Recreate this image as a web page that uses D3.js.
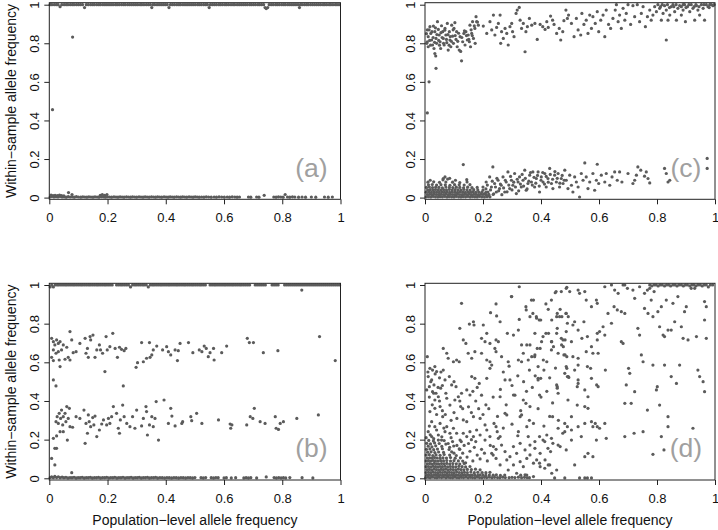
<!DOCTYPE html>
<html><head><meta charset="utf-8">
<script src="https://cdn.jsdelivr.net/npm/d3@7/dist/d3.min.js"></script>
<style>body{margin:0;background:#fff}svg{display:block}text{font-family:"Liberation Sans",Arial,Helvetica,sans-serif}</style>
</head><body><svg id="chart" width="718" height="530"></svg>
<script>
const xTicks=[0,0.2,0.4,0.6,0.8,1];
const yTicks=[0,0.2,0.4,0.6,0.8,1];
const xTitle="Population\u2212level allele frequency";
const yTitle="Within\u2212sample allele frequency";
const panelLabels=["(a)","(b)","(c)","(d)"];

// ---------- panel (a) ----------
const aTopBand=[[.003,1],[.009,1],[.017,1],[.024,1],[.03,1],[.037,.99],[.043,1],[.051,1],[.058,1],[.064,1],[.072,1],[.079,1],[.085,1],[.093,1],[.1,1],[.107,1],[.114,1],[.121,.985],[.127,1],[.134,1],[.142,1],[.149,1],[.155,1],[.163,1],[.17,1],[.176,1],[.184,1],[.191,1],[.198,1],[.205,1],[.212,1],[.219,1],[.227,1],[.233,1],[.24,1],[.248,1],[.255,1],[.261,1],[.269,1],[.276,1],[.283,1],[.29,1],[.297,1],[.304,1],[.312,1],[.318,1],[.325,1],[.333,1],[.34,1],[.347,1],[.352,.985],[.356,1],[.362,1],[.37,1],[.377,1],[.384,1],[.391,1],[.398,1],[.405,1],[.411,.985],[.416,1],[.423,1],[.43,1],[.438,1],[.445,1],[.451,1],[.459,1],[.466,1],[.473,1],[.48,1],[.487,1],[.494,1],[.501,1],[.509,1],[.515,1],[.522,1],[.53,1],[.537,1],[.543,1],[.549,.985],[.553,1],[.56,1],[.567,1],[.574,1],[.582,1],[.588,1],[.595,1],[.603,1],[.609,1],[.616,1],[.624,1],[.631,1],[.637,1],[.645,1],[.652,1],[.659,1],[.666,1],[.673,1],[.68,1],[.688,1],[.694,1],[.701,1],[.708,1],[.716,1],[.722,1],[.729,1],[.736,1],[.741,.985],[.745,.98],[.75,.985],[.755,1],[.762,1],[.769,1],[.777,1],[.783,1],[.79,1],[.798,1],[.805,1],[.811,1],[.819,1],[.826,1],[.833,1],[.84,1],[.847,1],[.854,1],[.859,.985],[.862,1],[.868,1],[.876,1],[.883,1],[.889,1],[.897,1],[.904,1],[.911,1],[.918,1],[.925,1],[.932,1],[.94,1],[.946,1],[.953,1],[.961,1],[.967,1],[.974,1],[.982,1],[.988,1],[.995,1]];
const aZeroBand=[[.003,.003],[.009,.006],[.016,.003],[.023,.005],[.03,.003],[.037,.006],[.044,.003],[.051,.004],[.058,.002],[.065,.005],[.072,.003],[.079,.004],[.086,.002],[.093,.005],[.1,.003],[.108,.002],[.115,.004],[.122,.003],[.129,.002],[.136,.004],[.143,.003],[.15,.002],[.157,.004],[.164,.003],[.171,.002],[.179,.004],[.186,.003],[.193,.002],[.2,.004],[.207,.003],[.214,.002],[.222,.004],[.229,.003],[.236,.002],[.243,.004],[.25,.003],[.257,.002],[.265,.004],[.272,.003],[.279,.002],[.286,.004],[.293,.003],[.3,.002],[.308,.004],[.315,.003],[.322,.002],[.329,.004],[.336,.003],[.343,.002],[.351,.004],[.358,.003],[.365,.002],[.372,.004],[.379,.003],[.386,.002],[.394,.004],[.401,.003],[.408,.002],[.415,.004],[.422,.003],[.429,.002],[.437,.004],[.444,.003],[.451,.002],[.458,.004],[.465,.003],[.472,.002],[.48,.004],[.487,.003],[.494,.002],[.501,.004],[.508,.003],[.515,.002],[.523,.003],[.531,.002],[.539,.004],[.547,.003],[.556,.002],[.566,.003],[.574,.002],[.583,.004],[.592,.003],[.601,.002],[.611,.003],[.619,.002],[.628,.004],[.637,.003],[.645,.002],[.653,.003],[.684,.003],[.692,.002],[.712,.003],[.72,.002],[.771,.003],[.779,.002],[.787,.004],[.795,.003],[.803,.002],[.818,.003],[.826,.002],[.835,.004],[.843,.003],[.856,.002],[.868,.003],[.88,.002],[.9,.003],[.915,.002],[.945,.003],[.958,.002],[.972,.003]];
const aOther=[[.006,.013],[.013,.01],[.02,.012],[.028,.01],[.035,.013],[.042,.01],[.05,.009],[.066,.026],[.078,.016],[.175,.012],[.182,.016],[.19,.012],[.198,.016],[.738,.012],[.81,.016],[.011,.456],[.08,.832]];

// ---------- panel (b) ----------
const bTopBand=[[.003,.99],[.008,1],[.014,.99],[.02,1],[.027,1],[.033,1],[.04,1],[.047,1],[.054,1],[.06,1],[.067,1],[.074,1],[.081,1],[.087,1],[.094,1],[.101,1],[.108,1],[.114,1],[.121,1],[.128,1],[.135,1],[.141,1],[.148,1],[.155,1],[.162,1],[.168,1],[.175,1],[.182,1],[.189,1],[.195,1],[.202,1],[.209,1],[.216,1],[.231,1],[.238,1],[.245,1],[.251,1],[.258,1],[.265,1],[.272,1],[.279,.99],[.286,1],[.293,1],[.299,1],[.306,1],[.313,1],[.32,1],[.326,1],[.333,1],[.34,.99],[.347,1],[.354,1],[.36,1],[.367,1],[.374,1],[.381,1],[.387,1],[.394,1],[.401,1],[.408,1],[.414,1],[.421,1],[.428,1],[.435,1],[.441,1],[.448,1],[.455,1],[.462,1],[.468,1],[.475,1],[.482,1],[.489,1],[.495,1],[.502,1],[.509,1],[.516,1],[.522,1],[.529,1],[.536,1],[.552,1],[.559,1],[.566,1],[.572,1],[.579,1],[.586,1],[.593,1],[.6,1],[.606,1],[.613,1],[.62,1],[.627,1],[.633,1],[.64,1],[.647,1],[.654,1],[.66,1],[.667,1],[.674,1],[.681,1],[.688,1],[.707,1],[.714,1],[.721,1],[.728,1],[.735,1],[.742,1],[.765,1],[.772,1],[.779,1],[.786,1],[.808,1],[.815,1],[.822,1],[.829,1],[.836,1],[.843,1],[.85,1],[.857,1],[.864,1],[.871,1],[.878,1],[.885,1],[.892,1],[.899,1],[.906,1],[.913,1],[.92,1],[.927,1],[.934,1],[.941,1],[.948,1],[.955,1],[.962,1],[.969,1],[.976,1],[.983,1],[.99,1],[.997,1],[.867,.974]];
const bUpperMid=[[.008,.724],[.014,.707],[.019,.69],[.025,.716],[.031,.698],[.037,.707],[.014,.664],[.023,.647],[.008,.626],[.014,.609],[.031,.655],[.042,.664],[.048,.69],[.06,.678],[.034,.612],[.037,.578],[.054,.616],[.065,.626],[.071,.759],[.077,.716],[.082,.65],[.071,.612],[.092,.655],[.105,.698],[.123,.724],[.131,.672],[.126,.647],[.134,.626],[.14,.733],[.15,.741],[.142,.716],[.157,.626],[.163,.664],[.172,.69],[.176,.664],[.183,.647],[.195,.733],[.191,.552],[.199,.664],[.208,.681],[.218,.75],[.226,.672],[.234,.626],[.241,.678],[.248,.667],[.254,.478],[.257,.66],[.263,.672],[.298,.574],[.303,.598],[.317,.702],[.323,.603],[.334,.621],[.344,.702],[.346,.626],[.352,.638],[.357,.664],[.369,.684],[.389,.664],[.403,.681],[.409,.655],[.417,.638],[.432,.664],[.44,.609],[.443,.66],[.449,.698],[.478,.702],[.493,.65],[.515,.664],[.524,.655],[.532,.684],[.539,.672],[.546,.629],[.552,.65],[.564,.672],[.566,.612],[.592,.65],[.609,.684],[.68,.724],[.687,.702],[.701,.702],[.735,.65],[.785,.66],[.928,.733],[.982,.609],[.014,.509],[.023,.478]];
const bLowerMid=[[.008,.103],[.014,.207],[.019,.155],[.025,.155],[.019,.069],[.025,.219],[.023,.293],[.027,.319],[.031,.284],[.034,.336],[.039,.31],[.042,.353],[.046,.276],[.048,.319],[.054,.336],[.057,.293],[.06,.371],[.065,.31],[.069,.362],[.062,.198],[.048,.241],[.037,.241],[.071,.267],[.08,.264],[.092,.319],[.105,.31],[.119,.353],[.123,.181],[.126,.284],[.131,.233],[.134,.328],[.137,.293],[.142,.267],[.149,.314],[.153,.276],[.157,.322],[.163,.216],[.172,.25],[.18,.281],[.186,.302],[.197,.276],[.203,.31],[.208,.284],[.214,.319],[.22,.371],[.231,.336],[.237,.259],[.241,.233],[.244,.302],[.252,.379],[.257,.319],[.266,.284],[.277,.267],[.286,.319],[.294,.259],[.3,.353],[.317,.271],[.323,.31],[.332,.371],[.334,.345],[.337,.224],[.344,.276],[.352,.319],[.357,.267],[.363,.31],[.367,.397],[.375,.198],[.394,.405],[.409,.284],[.417,.362],[.421,.322],[.432,.271],[.455,.284],[.458,.293],[.486,.319],[.489,.298],[.506,.336],[.524,.284],[.581,.302],[.621,.281],[.623,.259],[.627,.276],[.678,.276],[.69,.319],[.699,.31],[.704,.362],[.724,.293],[.741,.284],[.776,.319],[.779,.259],[.787,.253],[.793,.284],[.804,.293],[.85,.31],[.924,.328]];
const bZeroBand=[[.003,.003],[.008,.008],[.014,.003],[.019,.01],[.025,.004],[.031,.008],[.037,.003],[.044,.006],[.05,.003],[.057,.005],[.064,.002],[.071,.004],[.077,.029],[.078,.003],[.085,.005],[.092,.002],[.099,.004],[.106,.003],[.113,.005],[.12,.002],[.127,.004],[.134,.003],[.141,.005],[.148,.002],[.155,.004],[.162,.003],[.169,.005],[.176,.002],[.183,.004],[.19,.003],[.197,.005],[.204,.002],[.211,.004],[.218,.003],[.225,.005],[.232,.002],[.239,.004],[.246,.003],[.253,.005],[.26,.002],[.267,.004],[.274,.003],[.281,.005],[.288,.002],[.295,.004],[.302,.003],[.309,.005],[.316,.002],[.323,.004],[.33,.003],[.337,.005],[.344,.002],[.351,.004],[.358,.003],[.365,.005],[.372,.002],[.38,.004],[.388,.003],[.396,.002],[.404,.004],[.412,.003],[.42,.002],[.428,.004],[.436,.003],[.444,.002],[.452,.004],[.46,.003],[.468,.002],[.476,.004],[.484,.003],[.492,.002],[.5,.004],[.521,.003],[.529,.002],[.537,.004],[.556,.003],[.564,.002],[.572,.004],[.58,.003],[.6,.002],[.608,.003],[.625,.002],[.64,.003],[.668,.002],[.676,.003],[.684,.002],[.692,.003],[.712,.002],[.745,.007],[.772,.004],[.78,.002],[.788,.004],[.796,.002],[.804,.003],[.812,.002],[.826,.004],[.868,.003],[.905,.002]];

// ---------- panel (c) ----------
const cUpper=[[.008,.869],[.011,.834],[.008,.808],[.011,.782],[.017,.886],[.02,.851],[.023,.817],[.026,.791],[.029,.889],[.031,.773],[.034,.86],[.038,.825],[.034,.747],[.037,.734],[.04,.8],[.043,.912],[.046,.872],[.049,.843],[.052,.808],[.054,.773],[.057,.891],[.061,.86],[.063,.825],[.066,.791],[.069,.877],[.072,.843],[.075,.803],[.077,.903],[.08,.765],[.084,.86],[.086,.817],[.089,.782],[.092,.894],[.095,.837],[.098,.8],[.1,.877],[.103,.907],[.107,.82],[.109,.86],[.111,.782],[.118,.765],[.121,.834],[.123,.758],[.126,.709],[.13,.808],[.134,.851],[.138,.791],[.141,.86],[.146,.817],[.149,.843],[.153,.808],[.155,.894],[.157,.782],[.161,.851],[.164,.912],[.167,.825],[.172,.877],[.176,.938],[.178,.912],[.184,.894],[.038,.67],[.014,.6],[.008,.439],
[.005,.85],[.006,.8],[.014,.87],[.016,.815],[.019,.79],[.024,.86],[.028,.83],[.033,.805],[.036,.88],[.041,.845],[.047,.815],[.05,.79],[.055,.855],[.059,.83],[.064,.8],[.068,.868],[.074,.82],[.079,.845],[.083,.79],[.087,.835],[.091,.81],[.097,.87],[.104,.84],[.113,.81],[.116,.852],[.127,.83],[.136,.865],[.143,.84],[.151,.82],[.159,.87],[.163,.84],[.17,.89],[.181,.91],[.173,.8],
[.201,.889],[.213,.851],[.224,.912],[.23,.869],[.236,.946],[.241,.843],[.247,.882],[.253,.903],[.259,.946],[.261,.8],[.264,.86],[.27,.825],[.276,.877],[.282,.851],[.287,.791],[.293,.886],[.299,.903],[.302,.86],[.307,.834],[.314,.955],[.318,.972],[.325,.986],[.328,.92],[.333,.877],[.339,.903],[.345,.756],[.348,.86],[.353,.886],[.36,.929],[.368,.894],[.379,.903],[.387,.82],[.397,.898],[.406,.886],[.414,.872],[.42,.912],[.425,.882],[.433,.941],[.44,.92],[.445,.898],[.454,.851],[.463,.877],[.468,.817],[.475,.86],[.479,.917],[.486,.972],[.491,.929],[.495,.946],
[.505,.903],[.514,.834],[.522,.929],[.528,.869],[.537,.843],[.541,.955],[.548,.898],[.556,.92],[.562,.851],[.568,.946],[.574,.877],[.579,.938],[.587,.903],[.594,.964],[.599,.86],[.606,.92],[.614,.946],[.62,.834],[.625,.972],[.633,.898],[.64,.877],[.648,.929],[.656,.972],[.66,1],[.666,.912],[.671,.946],[.677,.877],[.683,.981],[.689,.92],[.694,.955],[.7,1],[.709,.898],[.717,.995],[.723,.938],[.732,1],[.74,.912],[.746,.955],[.752,.99],[.76,.886],[.767,.938],[.775,.972],[.78,.92],[.786,.946],[.792,.99],[.798,.964],[.803,1],[.809,.981],[.815,.92],[.821,.955],[.826,.995],[.832,.817],[.832,.972],[.838,.92],[.844,.946],[.849,.99],[.855,1],[.861,.964],[.867,.92],[.872,.981],[.878,.995],[.884,.946],[.89,.972],[.895,1],[.898,.912],[.905,.99],[.913,.964],[.918,1],[.924,.981],[.93,.92],[.936,.995],[.941,.972],[.947,.946],[.953,1],[.959,.981],[.964,.92],[.97,1],[.976,.99],[.982,1],[.987,1],[.993,.995],
[.812,.99],[.818,1],[.836,1],[.843,.985],[.858,.99],[.866,1],[.884,.99],[.89,1],[.9,.985],[.91,1],[.928,.99],[.934,1],[.945,.99],[.962,1],[.98,.985],[.997,1]];
const cLower=[[.2,.055],[.211,.081],[.217,.029],[.223,.107],[.229,.055],[.234,.159],[.24,.073],[.246,.029],[.252,.09],[.257,.047],[.263,.064],[.269,.107],[.275,.029],[.28,.081],[.286,.133],[.292,.047],[.298,.09],[.303,.064],[.309,.125],[.315,.021],[.321,.081],[.326,.107],[.332,.055],[.338,.09],[.344,.142],[.349,.038],[.355,.073],[.361,.116],[.367,.081],[.372,.133],[.378,.055],[.384,.099],[.39,.133],[.395,.029],[.401,.107],[.407,.081],[.413,.125],[.418,.055],[.424,.099],[.43,.151],[.436,.073],[.441,.047],[.447,.116],[.453,.081],[.459,.125],[.464,.055],[.47,.099],[.476,.073],[.482,.142],[.487,.09],[.493,.047],[.499,.116],[.505,.064],[.51,.029],[.516,.107],[.522,.081],[.528,.055],[.533,.003],[.539,.125],[.545,.09],[.551,.18],[.556,.107],[.562,.047],[.568,.081],[.579,.125],[.585,.038],[.591,.09],[.594,.173],[.599,.073],[.608,.116],[.62,.081],[.625,.125],[.637,.064],[.645,.107],[.654,.133],[.663,.09],[.671,.133],[.679,.081],[.7,.125],[.717,.073],[.723,.09],[.729,.116],[.734,.159],[.744,.142],[.757,.111],[.763,.133],[.769,.099],[.775,.076],[.826,.151],[.832,.125],[.838,.081],[.844,.09],[.973,.203],[.973,.151],[.132,.171],[.063,.099],[.069,.107],[.144,.093],
[.205,.02],[.21,.045],[.215,.065],[.22,.01],[.226,.04],[.232,.085],[.237,.02],[.243,.055],[.248,.1],[.254,.035],[.26,.07],[.265,.015],[.271,.05],[.277,.09],[.283,.03],[.289,.065],[.295,.11],[.3,.04],[.306,.08],[.312,.055],[.318,.095],[.323,.035],[.329,.07],[.335,.12],[.34,.06],[.346,.1],[.352,.045],[.358,.085],[.364,.13],[.37,.065],[.376,.105],[.382,.075],[.388,.115],[.394,.06],[.4,.09],[.406,.13],[.412,.07],[.418,.11],[.425,.08],[.432,.12],[.44,.095],[.448,.135],[.456,.1],[.465,.075],[.473,.115],[.48,.09]];
const cLowerDense=[[.004,.004],[.012,.005],[.02,.003],[.028,.006],[.036,.004],[.044,.003],[.052,.005],[.06,.004],[.068,.006],[.076,.003],[.084,.005],[.092,.004],[.1,.003],[.108,.006],[.116,.004],[.124,.003],[.132,.005],[.14,.004],[.148,.006],[.156,.003],[.164,.005],[.172,.004],[.18,.003],[.188,.006],[.196,.004],[.205,.003],[.214,.005],[.224,.004],
[.008,.016],[.016,.017],[.024,.015],[.032,.018],[.04,.016],[.048,.015],[.056,.017],[.064,.016],[.072,.018],[.08,.015],[.088,.017],[.096,.016],[.104,.015],[.112,.018],[.12,.016],[.128,.015],[.136,.017],[.144,.016],[.152,.018],[.16,.015],[.168,.017],[.176,.016],[.184,.015],[.192,.018],[.2,.016],[.21,.015],[.22,.017],[.235,.016],
[.004,.028],[.013,.029],[.022,.027],[.031,.03],[.04,.028],[.049,.027],[.058,.029],[.067,.028],[.076,.03],[.085,.027],[.094,.029],[.103,.028],[.112,.027],[.121,.03],[.13,.028],[.139,.027],[.148,.029],[.157,.028],[.166,.03],[.175,.027],[.185,.029],[.196,.028],[.21,.027],
[.009,.04],[.018,.041],[.027,.039],[.036,.042],[.045,.04],[.054,.039],[.064,.041],[.074,.04],[.084,.042],[.094,.039],[.104,.041],[.114,.04],[.124,.039],[.134,.042],[.145,.04],[.156,.039],[.168,.041],[.182,.04],[.2,.039],
[.005,.053],[.015,.055],[.026,.052],[.037,.054],[.048,.053],[.06,.051],[.072,.055],[.084,.053],[.096,.052],[.108,.054],[.12,.053],[.133,.051],[.147,.054],[.162,.052],[.18,.053],
[.012,.066],[.025,.068],[.04,.065],[.055,.067],[.07,.066],[.086,.064],[.102,.067],[.118,.066],[.135,.065],[.155,.067],
[.01,.08],[.03,.082],[.05,.079],[.072,.081],[.095,.08],[.12,.078],[.145,.081],
[.018,.09],[.062,.092],[.078,.096],[.085,.1],[.105,.09]];

// ---------- panel (d) ----------
const dTopBand=[[.775,1],[.782,.995],[.79,1],[.797,1],[.804,.995],[.811,1],[.818,1],[.826,.995],[.833,1],[.84,1],[.847,.995],[.855,1],[.862,1],[.869,.995],[.876,1],[.884,1],[.891,.995],[.898,1],[.905,1],[.913,.995],[.92,1],[.927,1],[.934,.995],[.941,1],[.949,1],[.956,.995],[.963,1],[.97,1],[.977,.99],[.984,1],[.992,1]];
const dScatter=[[.325,.991],[.126,.905],[.299,.94],[.374,.922],[.417,.902],[.452,.966],[.489,.988],[.245,.902],[.226,.857],[.247,.84],[.259,.81],[.325,.822],[.348,.888],[.362,.836],[.385,.828],[.394,.819],[.425,.874],[.437,.819],[.454,.836],[.466,.874],[.486,.853],[.494,.836],[.153,.798],[.167,.81],[.169,.793],[.201,.793],[.12,.776],[.213,.75],[.245,.716],[.253,.707],[.224,.698],[.207,.707],[.195,.724],[.132,.716],[.141,.698],[.284,.75],[.305,.741],[.322,.767],[.333,.69],[.351,.69],[.362,.69],[.379,.75],[.402,.707],[.417,.75],[.437,.707],[.443,.681],[.454,.75],[.471,.69],[.483,.716],[.489,.629],[.063,.672],[.075,.647],[.08,.621],[.098,.603],[.109,.612],[.118,.603],[.149,.647],[.161,.621],[.172,.655],[.195,.647],[.213,.612],[.224,.603],[.241,.672],[.245,.655],[.264,.629],[.287,.603],[.322,.612],[.333,.603],[.339,.647],[.356,.612],[.368,.629],[.379,.638],[.387,.672],[.397,.672],[.408,.612],[.42,.603],[.477,.681],[.483,.638],[.008,.629],[.017,.569],[.026,.56],[.034,.578],[.04,.552],[.011,.526],[.023,.509],[.031,.483],[.015,.474],[.006,.457],[.026,.448],[.038,.44],[.046,.422],[.034,.405],[.054,.466],[.063,.56],[.069,.509],[.084,.526],[.092,.483],[.1,.5],[.107,.474],[.115,.422],[.126,.44],[.072,.44],[.075,.414],[.052,.371],[.034,.362],[.017,.345],[.061,.319],[.086,.379],[.103,.405],[.123,.371],[.144,.457],[.155,.431],[.161,.526],[.172,.517],[.187,.491],[.213,.517],[.23,.586],[.224,.569],[.259,.422],[.276,.509],[.293,.509],[.305,.431],[.339,.405],[.348,.388],[.362,.371],[.39,.517],[.399,.517],[.454,.483],[.456,.466],[.489,.569],[.494,.526],[.132,.302],[.144,.293],[.167,.319],[.19,.31],[.207,.276],[.213,.25],[.238,.284],[.245,.267],[.249,.241],[.259,.216],[.276,.336],[.282,.328],[.322,.241],[.328,.319],[.333,.328],[.351,.267],[.356,.216],[.374,.284],[.379,.19],[.42,.224],[.44,.319],[.466,.164],[.475,.233],[.491,.267],
[.15,.37],[.16,.34],[.175,.4],[.185,.36],[.2,.33],[.21,.38],[.22,.36],[.235,.42],[.165,.45],[.18,.47],[.195,.43],[.12,.4],[.13,.36],[.1,.34],[.09,.3],[.11,.31],[.07,.33],[.06,.35],[.04,.33],[.025,.38],[.05,.4],[.015,.42],[.03,.44],[.045,.47],[.02,.5],[.05,.52],[.06,.48],[.01,.55],[.035,.54],[.055,.55],
[.26,.46],[.27,.55],[.29,.58],[.3,.48],[.31,.43],[.32,.53],[.34,.5],[.35,.45],[.36,.56],[.37,.47],[.38,.53],[.41,.56],[.42,.45],[.43,.52],[.44,.39],[.45,.57],[.4,.42],[.39,.36],[.33,.35],[.28,.38],[.25,.32],[.27,.26],[.3,.28],[.32,.22],[.36,.3],[.41,.27],[.43,.32],[.46,.3],
[.282,.095],[.293,.112],[.305,.069],[.316,.129],[.328,.086],[.339,.06],[.351,.103],[.362,.121],[.374,.078],[.385,.095],[.397,.06],[.305,.164],[.328,.181],[.345,.147],[.362,.172],[.379,.155],[.397,.129],[.414,.095],[.425,.069],[.437,.026],[.454,.043],[.253,.207],[.264,.172],[.276,.138],[.236,.164],[.23,.129],[.245,.103],[.259,.069],[.287,.043],[.316,.026],[.351,.017],[.374,.009],[.224,.216],[.207,.198],[.19,.224],[.178,.25],[.167,.216],[.155,.241],[.144,.216],[.132,.233],[.121,.198],[.109,.233],[.098,.259],[.086,.233],[.075,.267],[.069,.241],[.052,.284],[.034,.267],[.023,.293],[.011,.241],[.046,.224],[.057,.198],[.023,.216],
[.145,.11],[.155,.14],[.165,.09],[.17,.16],[.18,.12],[.19,.1],[.195,.15],[.205,.13],[.215,.09],[.225,.17],[.235,.12],[.245,.15],[.15,.18],[.16,.2],[.175,.19],[.13,.13],[.135,.17],[.14,.08],[.12,.15],[.125,.19],[.11,.17],[.1,.13],[.095,.19],[.085,.16],[.08,.18],
[.487,.983],[.47,.966],[.499,.966],[.528,.974],[.533,.957],[.551,.966],[.574,.888],[.556,.922],[.591,.922],[.594,.905],[.62,.991],[.643,1],[.654,.974],[.666,.957],[.683,1],[.689,1],[.698,.983],[.717,.974],[.723,.931],[.74,.991],[.757,.957],[.767,.974],[.775,.983],[.78,.922],[.79,.966],[.757,.879],[.769,.853],[.786,.836],[.803,.862],[.815,.888],[.832,.922],[.855,.905],[.872,.94],[.901,.888],[.918,.983],[.93,.983],[.964,.914],[.97,.888],[.964,.819],
[.631,.853],[.643,.802],[.652,.888],[.663,.871],[.677,.862],[.689,.853],[.62,.741],[.602,.759],[.614,.784],[.594,.716],[.677,.707],[.683,.698],[.702,.569],[.706,.543],[.734,.776],[.74,.741],[.746,.638],[.752,.603],[.723,.448],[.694,.483],[.689,.388],[.711,.388],[.689,.216],[.721,.233],[.752,.241],[.767,.353],[.786,.586],[.798,.457],[.801,.474],[.809,.379],[.815,.216],[.824,.147],[.826,.586],[.838,.319],[.838,.267],[.849,.526],[.867,.491],[.878,.586],[.884,.784],[.89,.724],[.895,.862],[.907,.716],[.924,.259],[.936,.733],[.941,.56],[.947,.526],[.959,.5],[.964,.448],[.97,.724],[.809,.784],[.838,.767],[.849,.767],[.861,.81],[.821,.741],[.826,.733],[.786,.124],
[.436,.922],[.449,.96],[.456,.853],[.464,.836],[.472,.836],[.487,.853],[.491,.802],[.456,.776],[.487,.759],[.51,.793],[.516,.81],[.528,.767],[.548,.81],[.541,.724],[.56,.733],[.556,.655],[.574,.681],[.579,.647],[.594,.75],[.597,.647],[.47,.724],[.476,.716],[.505,.707],[.459,.647],[.479,.638],[.51,.629],[.528,.621],[.487,.578],[.482,.543],[.491,.526],[.496,.522],[.516,.56],[.528,.586],[.56,.578],[.571,.569],[.574,.517],[.592,.483],[.597,.474],[.622,.56],[.528,.509],[.551,.457],[.456,.474],[.459,.44],[.39,.509],[.395,.431],[.39,.578],[.378,.629],[.426,.75],[.436,.707],[.436,.664],[.407,.733],[.399,.819],[.384,.836],[.372,.853],[.349,.871],[.367,.922],[.298,.94],
[.493,.405],[.525,.379],[.551,.371],[.505,.319],[.482,.284],[.459,.259],[.482,.241],[.505,.25],[.528,.267],[.539,.216],[.551,.284],[.574,.293],[.579,.267],[.587,.284],[.594,.267],[.602,.259],[.62,.284],[.591,.198],[.562,.129],[.551,.112],[.579,.112],[.505,.198],[.487,.147],[.459,.172],[.441,.181],[.424,.155],[.433,.138],[.407,.198],[.395,.216],[.413,.19],[.436,.207],[.395,.078],[.413,.052],[.43,.069],[.447,.002],[.482,.002],[.516,.069],[.533,.002],[.551,.002],[.56,.002],[.574,.002],[.625,.207],[.525,.474],[.528,.491],[.562,.422],[.562,.362]];
const dDense=[[.003,.004],[.011,.005],[.018,.003],[.026,.006],[.034,.004],[.041,.003],[.049,.005],[.057,.004],[.064,.006],[.072,.003],[.08,.005],[.087,.004],[.095,.003],[.103,.006],[.11,.004],[.118,.003],[.126,.005],[.133,.004],[.141,.006],[.149,.003],[.157,.005],[.164,.004],[.172,.003],[.18,.006],[.188,.004],[.196,.003],[.205,.005],[.213,.004],[.222,.006],[.231,.003],[.24,.005],[.25,.004],[.258,.003],[.268,.006],[.277,.004],[.29,.003],[.3,.005],[.31,.004],[.322,.006],[.333,.003],[.343,.005],[.352,.004],[.36,.003],
[.006,.016],[.014,.017],[.022,.015],[.03,.018],[.038,.016],[.045,.015],[.053,.017],[.061,.016],[.068,.018],[.076,.015],[.084,.017],[.092,.016],[.099,.015],[.107,.018],[.115,.016],[.123,.015],[.131,.017],[.139,.016],[.147,.018],[.155,.015],[.163,.017],[.172,.016],[.182,.015],[.19,.018],[.2,.016],[.21,.015],[.222,.017],[.235,.016],[.246,.018],[.26,.015],[.275,.017],[.33,.016],[.345,.018],
[.004,.03],[.012,.031],[.02,.029],[.028,.032],[.036,.03],[.044,.029],[.052,.031],[.06,.03],[.068,.032],[.076,.029],[.084,.031],[.092,.03],[.1,.029],[.109,.032],[.118,.03],[.127,.029],[.136,.031],[.146,.03],[.158,.032],[.17,.029],[.182,.031],[.197,.03],[.21,.029],[.224,.031],
[.007,.045],[.015,.046],[.023,.044],[.031,.047],[.039,.045],[.047,.044],[.055,.046],[.063,.045],[.071,.047],[.079,.044],[.088,.046],[.097,.045],[.106,.044],[.115,.047],[.124,.045],[.134,.044],[.146,.046],[.16,.045],[.174,.047],[.19,.044],
[.004,.06],[.012,.061],[.02,.059],[.028,.062],[.036,.06],[.044,.059],[.052,.061],[.06,.06],[.069,.062],[.078,.059],[.087,.061],[.096,.06],[.106,.059],[.117,.062],[.128,.06],[.14,.059],[.155,.061],
[.008,.075],[.016,.076],[.024,.074],[.032,.077],[.04,.075],[.048,.074],[.057,.076],[.066,.075],[.075,.077],[.085,.074],[.096,.076],[.108,.075],[.12,.074],[.135,.077],
[.004,.09],[.012,.091],[.02,.089],[.028,.092],[.036,.09],[.045,.089],[.054,.091],[.064,.09],[.075,.092],[.088,.089],[.1,.091],[.115,.09],[.13,.089],
[.008,.105],[.016,.106],[.024,.104],[.033,.107],[.042,.105],[.052,.104],[.062,.106],[.074,.105],[.088,.107],[.104,.104],[.122,.106],
[.004,.12],[.015,.122],[.027,.118],[.038,.121],[.052,.119],[.066,.123],[.085,.12],[.108,.118],
[.009,.135],[.021,.137],[.034,.133],[.047,.136],[.064,.134],[.092,.137],
[.005,.15],[.017,.152],[.03,.148],[.043,.151],[.06,.153],[.083,.149],[.118,.152],
[.011,.166],[.024,.163],[.037,.168],[.058,.165],[.099,.167],
[.006,.181],[.019,.178],[.033,.183],[.049,.18],[.072,.177],
[.013,.196],[.029,.193],[.046,.198],[.066,.195],
[.004,.21],[.018,.225],[.03,.205],[.058,.215],[.04,.25],[.015,.27],[.065,.26],[.09,.21]];

const panels=[
  {name:panelLabels[0],sets:[aTopBand,aZeroBand,aOther],x0:49.3,x1:340.5,yb:197.6,yt:4.7,bt:2.7,bb:199.3,yLab:true,xLab:false},
  {name:panelLabels[2],sets:[cUpper,cLower,cLowerDense],x0:425,x1:715,yb:197.6,yt:4.7,bt:2.7,bb:199.3,yLab:false,xLab:false},
  {name:panelLabels[1],sets:[bTopBand,bUpperMid,bLowerMid,bZeroBand],x0:49.3,x1:340.5,yb:478.3,yt:285,bt:283.3,bb:480,yLab:true,xLab:true},
  {name:panelLabels[3],sets:[dTopBand,dScatter,dDense],x0:425,x1:715,yb:478.3,yt:285,bt:283.3,bb:480,yLab:false,xLab:true}
];

const svg=d3.select("#chart");
const ptColor="#5b5b5b", axColor="#222";
panels.forEach(p=>{
  const x=d3.scaleLinear().domain([0,1]).range([p.x0,p.x1]);
  const y=d3.scaleLinear().domain([0,1]).range([p.yb,p.yt]);
  const g=svg.append("g");
  const pts=[].concat(...p.sets);
  g.append("g").selectAll("circle").data(pts).join("circle")
    .attr("cx",d=>x(d[0])).attr("cy",d=>y(d[1])).attr("r",1.6).attr("fill",ptColor);
  g.append("rect").attr("x",p.x0).attr("y",p.bt).attr("width",p.x1-p.x0).attr("height",p.bb-p.bt)
    .attr("fill","none").attr("stroke",axColor).attr("stroke-width",1);
  // x axis
  const xa=g.append("g").attr("transform",`translate(0,${p.bb})`)
    .call(d3.axisBottom(x).tickValues(xTicks).tickSize(5).tickSizeOuter(0).tickPadding(8.8).tickFormat(d=>String(d)));
  xa.select(".domain").remove();
  xa.selectAll("line").attr("stroke",axColor);
  xa.selectAll("text").attr("fill","#111").style("font-size","13px");
  // y axis
  const ya=g.append("g").attr("transform",`translate(${p.x0},0)`)
    .call(d3.axisLeft(y).tickValues(yTicks).tickSize(5).tickSizeOuter(0).tickFormat(d=>String(d)));
  ya.select(".domain").remove();
  ya.selectAll("line").attr("stroke",axColor);
  ya.selectAll("text").attr("x",0).attr("dy","0.35em")
    .attr("transform","translate(-14.5,0) rotate(-90)")
    .attr("text-anchor","middle").attr("fill","#111").style("font-size","13px");
  // panel label
  g.append("text").attr("x",x(0.9)).attr("y",y(0.145)+6.9).attr("text-anchor","middle")
    .attr("fill","#a0a0a0").style("font-size","26.5px").text(p.name);
  if(p.yLab){
    g.append("text").attr("transform",`translate(15.5,${(p.bt+p.bb)/2}) rotate(-90)`)
      .attr("text-anchor","middle").attr("fill","#111").style("font-size","14px").text(yTitle);
  }
  if(p.xLab){
    g.append("text").attr("x",(p.x0+p.x1)/2).attr("y",524.5).attr("text-anchor","middle")
      .attr("fill","#111").style("font-size","14px").text(xTitle);
  }
});
</script></body></html>
